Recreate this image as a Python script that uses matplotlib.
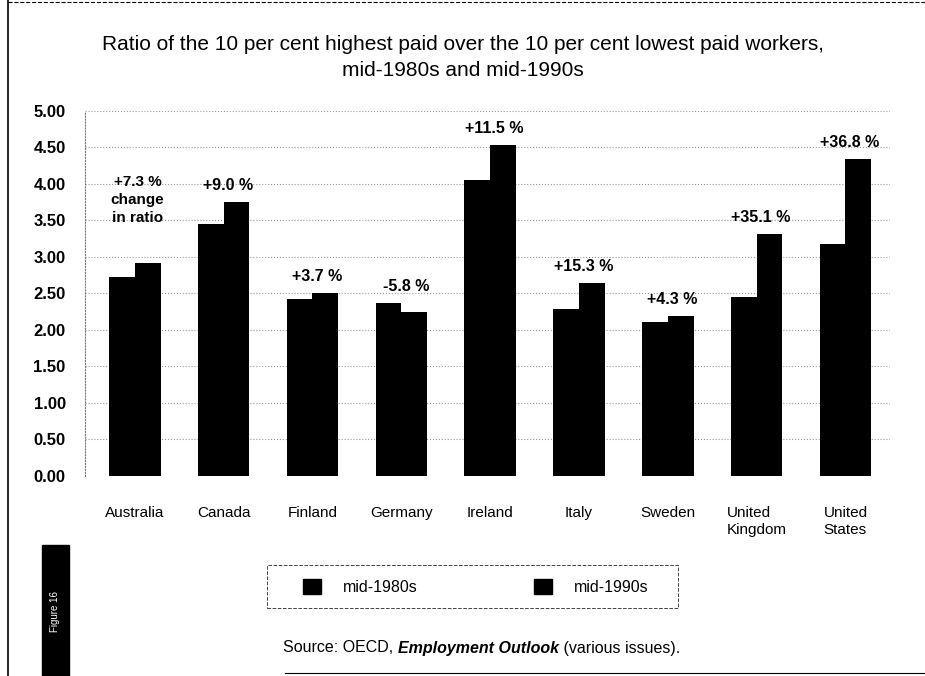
import numpy as np
import matplotlib
matplotlib.use('Agg')
import matplotlib.pyplot as plt
from matplotlib.patches import Rectangle
from matplotlib.lines import Line2D

plt.rcParams['font.family'] = ['Liberation Sans', 'DejaVu Sans']

countries = ['Australia', 'Canada', 'Finland', 'Germany', 'Ireland',
             'Italy', 'Sweden', 'United\nKingdom', 'United\nStates']
mid80 = [2.72, 3.45, 2.42, 2.37, 4.05, 2.29, 2.11, 2.45, 3.18]
mid90 = [2.92, 3.75, 2.51, 2.25, 4.53, 2.64, 2.19, 3.32, 4.34]
changes = ['+7.3 %', '+9.0 %', '+3.7 %', '-5.8 %', '+11.5 %',
           '+15.3 %', '+4.3 %', '+35.1 %', '+36.8 %']
yticks = [0, 0.5, 1, 1.5, 2, 2.5, 3, 3.5, 4, 4.5, 5]

fig = plt.figure(figsize=(9.25, 6.76), dpi=100)
ax = fig.add_axes([0.092, 0.296, 0.870, 0.540])

x = np.arange(len(countries))
w = 0.29
ax.bar(x - w/2, mid80, w, color='black', label='mid-1980s')
ax.bar(x + w/2, mid90, w, color='black', label='mid-1990s')

ax.set_ylim(0, 5)
ax.set_xlim(-0.56, 8.5)
ax.set_yticks(yticks)
ax.set_yticklabels(['%.2f' % v for v in yticks], fontsize=12, fontweight='bold')
ax.set_xticks(x)
ax.set_xticklabels(countries, fontsize=11, multialignment='left')
ax.tick_params(axis='y', length=0, pad=14)
ax.tick_params(axis='x', length=0, pad=22)
for s in ['top', 'right', 'bottom']:
    ax.spines[s].set_visible(False)
ax.spines['left'].set_linestyle(':')
ax.spines['left'].set_color('#777777')
ax.spines['left'].set_linewidth(0.8)
ax.yaxis.grid(True, linestyle=':', color='#999999', linewidth=0.8)
ax.set_axisbelow(True)

# change labels above bars
for i in range(len(countries)):
    top = max(mid80[i], mid90[i])
    if i == 0:
        ax.text(x[i] + 0.03, top + 0.86, changes[i] + '\nchange\nin ratio', ha='center',
                va='center', fontsize=11, fontweight='bold', linespacing=1.35)
    else:
        ax.text(x[i] + 0.05, top + 0.12, changes[i], ha='center', va='bottom',
                fontsize=11.5, fontweight='bold')

fig.text(0.5, 1 - 45/676, 'Ratio of the 10 per cent highest paid over the 10 per cent lowest paid workers,',
         ha='center', va='center', fontsize=15)
fig.text(0.5, 1 - 71/676, 'mid-1980s and mid-1990s', ha='center', va='center', fontsize=15)

handles = [Rectangle((0, 0), 1, 1, color='black'), Rectangle((0, 0), 1, 1, color='black')]
leg = fig.legend(handles, ['mid-1980s', 'mid-1990s'], loc='center',
                 bbox_to_anchor=(476/925, 1 - 587/676), ncol=2, frameon=False,
                 handlelength=1.1, handleheight=1.1,
                 columnspacing=7.3, fontsize=11.5, handletextpad=1.4)
fig.add_artist(Rectangle((267/925, 1 - 608/676), 411/925, 43/676, fill=False,
                         edgecolor='#444444', linestyle='--', linewidth=0.7,
                         transform=fig.transFigure))

# source line with italic title
fig.canvas.draw()
r = fig.canvas.get_renderer()
parts = [('Source: OECD, ', 'normal', 'normal'),
         ('Employment Outlook', 'italic', 'bold'),
         (' (various issues).', 'normal', 'normal')]
xpos = 283 / 925
for txt, st, wt in parts:
    t = fig.text(xpos, 1 - 648/676, txt, ha='left', va='center', fontsize=11.5,
                 style=st, fontweight=wt)
    bb = t.get_window_extent(renderer=r)
    xpos += bb.width / fig.bbox.width

# frame lines and sidebar
fig.add_artist(Line2D([8/925, 8/925], [0, 1], color='black', lw=1.2))
fig.add_artist(Line2D([8/925, 1], [1 - 2/676, 1 - 2/676], color='black', lw=0.8, ls='--'))
fig.add_artist(Line2D([285/925, 1], [3/676, 3/676], color='black', lw=0.8))
fig.add_artist(Rectangle((42/925, 0), 27/925, 131/676, color='black', transform=fig.transFigure))
fig.text(55.5/925, 65/676, 'Figure 16', rotation=90, color='white', ha='center',
         va='center', fontsize=7)

fig.savefig('out.png', dpi=100)
